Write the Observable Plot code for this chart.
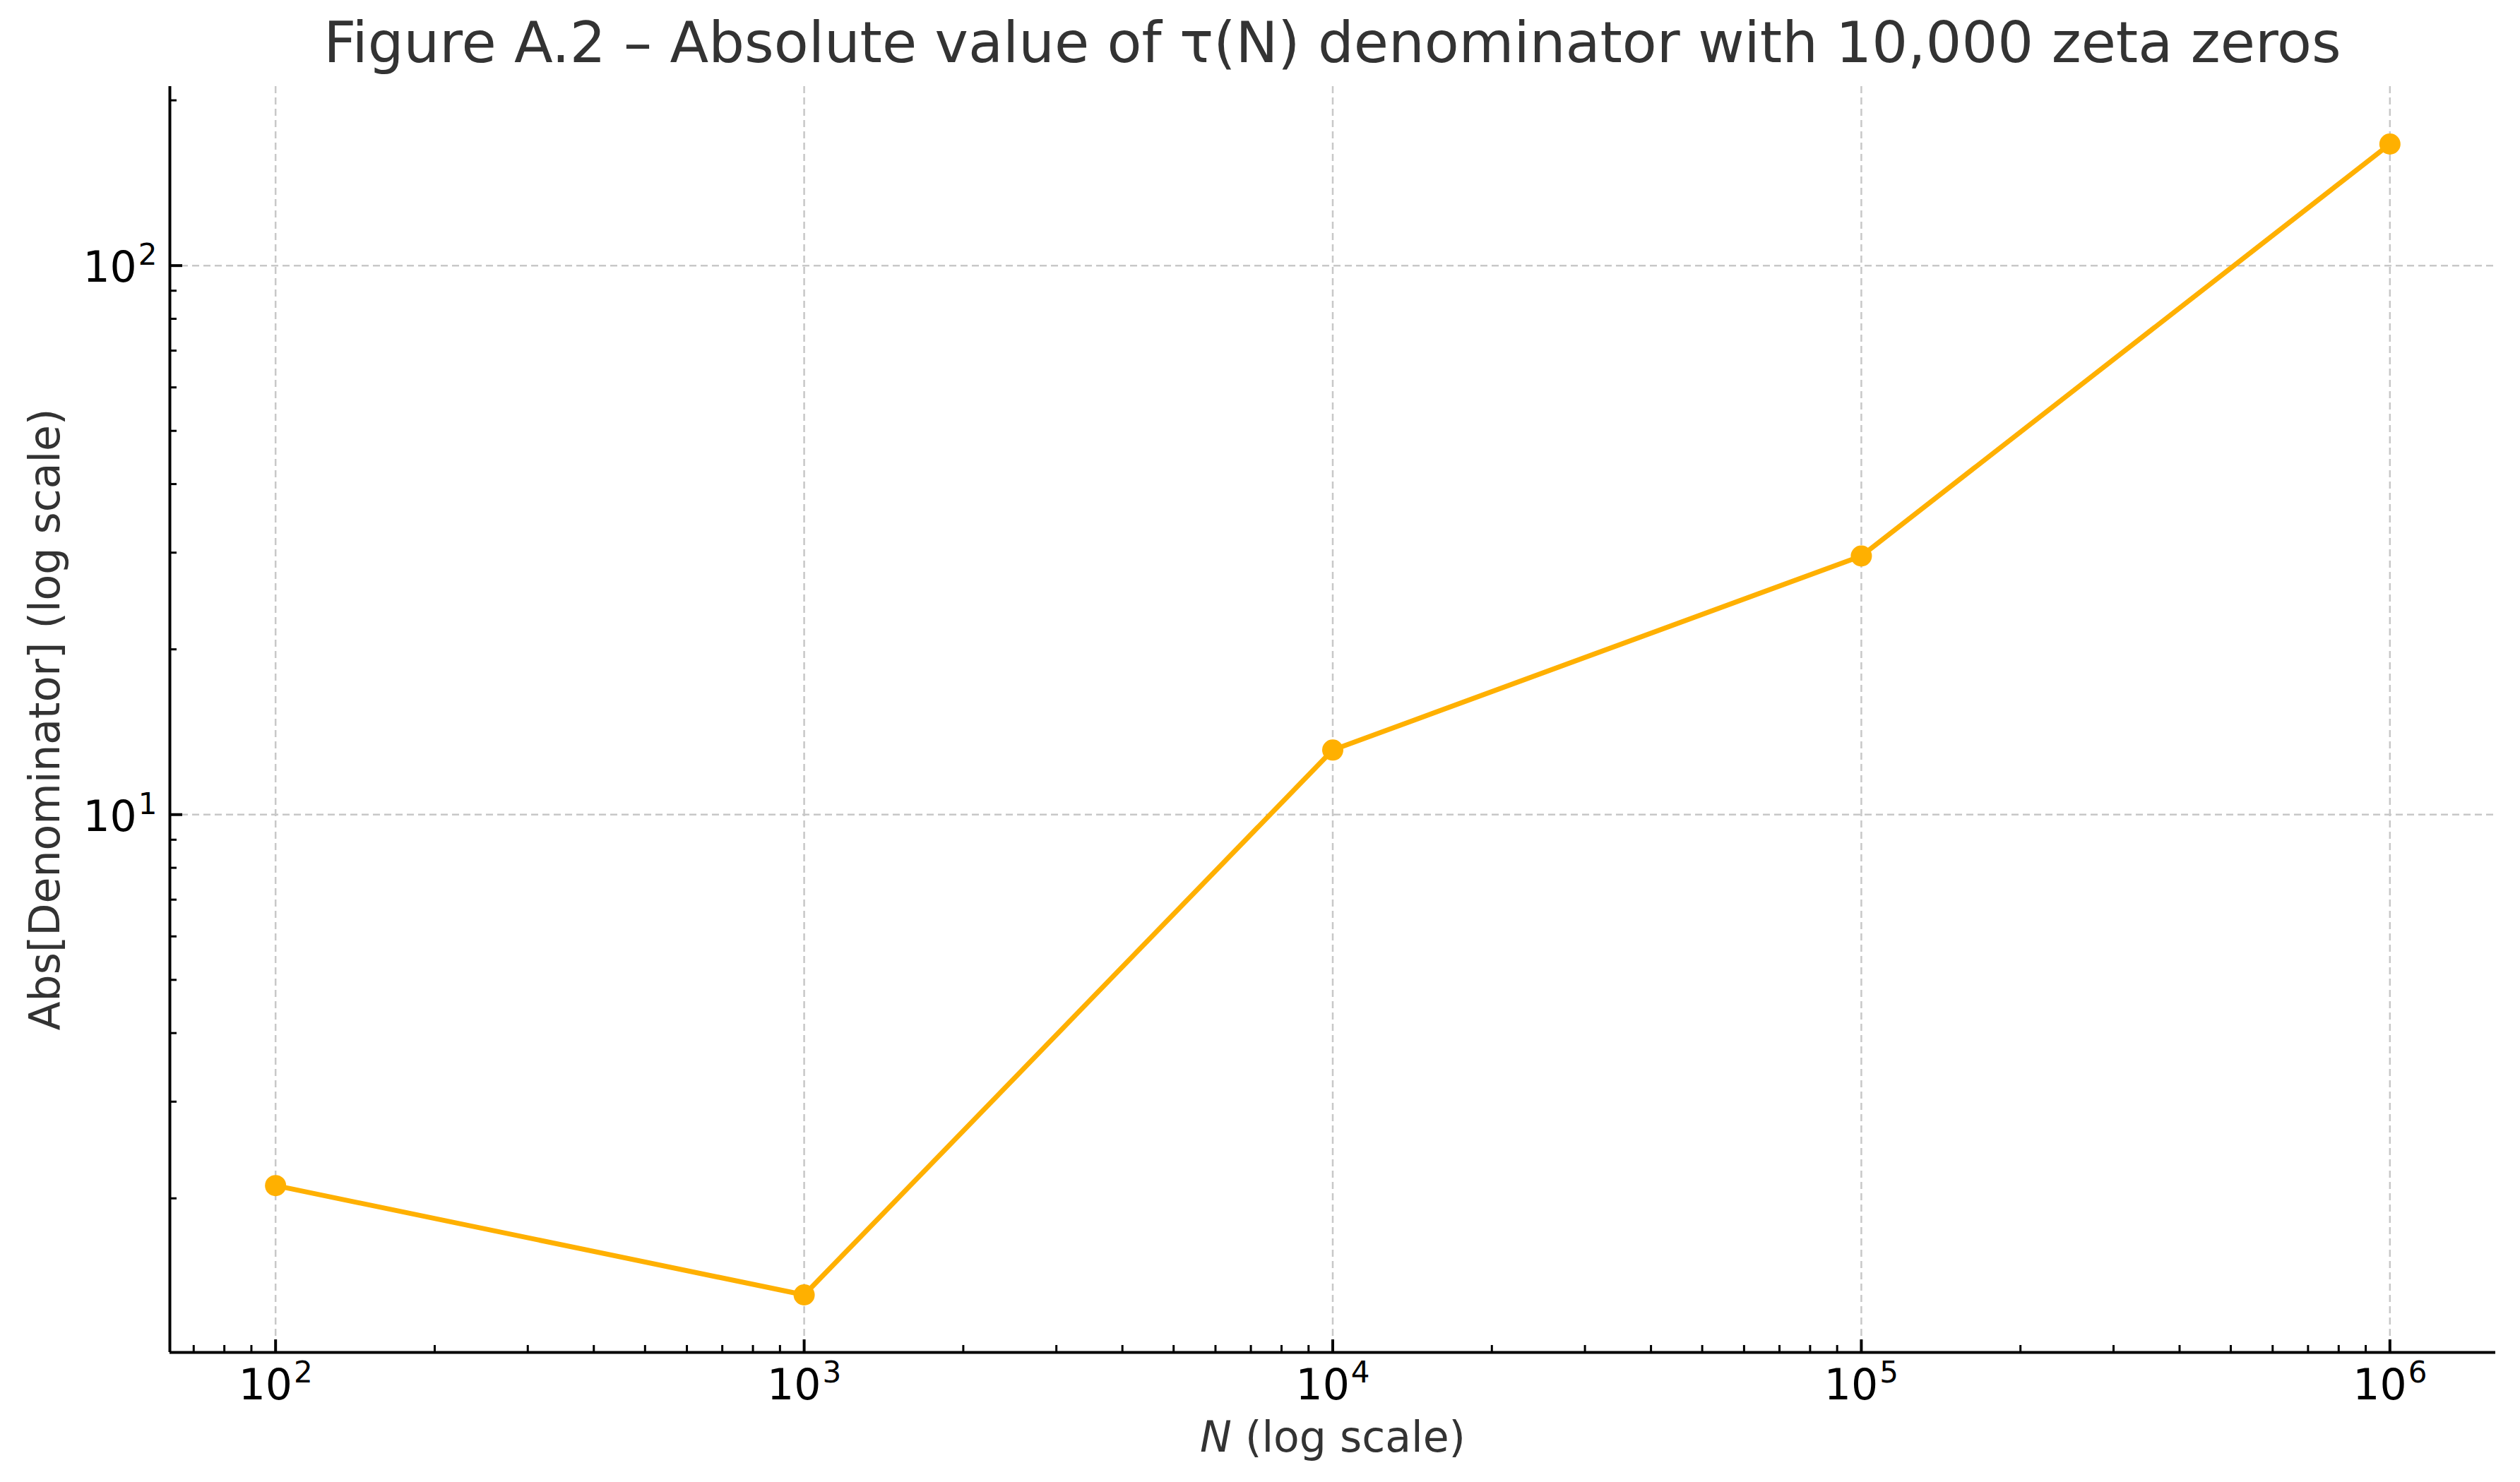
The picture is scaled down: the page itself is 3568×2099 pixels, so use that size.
<!DOCTYPE html>
<html>
<head>
<meta charset="utf-8">
<script src="https://cdn.jsdelivr.net/npm/d3@7"></script>
<script src="https://cdn.jsdelivr.net/npm/@observablehq/plot@0.6"></script>
<style>
  html, body { margin: 0; padding: 0; background: #fff; }
  #title {
    height: 122px;
    font: 80px/122px "DejaVu Sans", sans-serif;
    color: #333;
    text-align: center;
    padding-left: 240px;
    padding-right: 35px;
    white-space: nowrap;
  }
</style>
</head>
<body>
<div id="title"></div>
<div id="chart"></div>
<script>
// ---- data ----
const titleText = "Figure A.2 – Absolute value of τ(N) denominator with 10,000 zeta zeros";
const xLabel = "N (log scale)";
const yLabel = "Abs[Denominator] (log scale)";
const N = [1e2, 1e3, 1e4, 1e5, 1e6];
const absDenominator = [2.11, 1.334, 13.11, 29.58, 166.5];
const xTickValues = [1e2, 1e3, 1e4, 1e5, 1e6];
const yTickValues = [1e1, 1e2];

document.getElementById("title").textContent = titleText;

const data = N.map((n, i) => ({n, v: absDenominator[i]}));

// matplotlib-like 5% margins in log space
function logExtent(arr) {
  const l = arr.map(Math.log10);
  const lo = d3.min(l), hi = d3.max(l), m = 0.05 * (hi - lo);
  return [10 ** (lo - m), 10 ** (hi + m)];
}
const xDomain = logExtent(N);
const yDomain = logExtent(absDenominator);
const isPow10 = t => Math.abs(Math.log10(t) - Math.round(Math.log10(t))) < 1e-9;
const minorX = d3.scaleLog().domain(xDomain).ticks().filter(t => !isPow10(t) && t >= xDomain[0] && t <= xDomain[1]);
const minorY = d3.scaleLog().domain(yDomain).ticks().filter(t => !isPow10(t) && t >= yDomain[0] && t <= yDomain[1]);

const W = 3568, H = 1977;
const mL = 240, mR = 35, mT = 0, mB = 184;
const plotW = W - mL - mR, plotH = H - mT - mB;
const fmt = d => `10^${Math.round(Math.log10(d))}`;
const gridStyle = {stroke: "#c8c8c8", strokeOpacity: 1, strokeWidth: 2.5, strokeDasharray: "10,6"};

const chart = Plot.plot({
  width: W,
  height: H,
  marginLeft: mL,
  marginRight: mR,
  marginTop: mT,
  marginBottom: mB,
  style: {fontFamily: "DejaVu Sans", fontSize: "60px", background: "white", color: "black"},
  x: {type: "log", domain: xDomain},
  y: {type: "log", domain: yDomain},
  marks: [
    Plot.gridX({ticks: xTickValues, ...gridStyle}),
    Plot.gridY({ticks: yTickValues, ...gridStyle}),
    // inward ticks
    Plot.ruleX(xTickValues, {x: d => d, stroke: "black", strokeWidth: 4, insetTop: plotH - 18}),
    Plot.ruleX(minorX, {x: d => d, stroke: "black", strokeWidth: 3, insetTop: plotH - 10}),
    Plot.ruleY(yTickValues, {y: d => d, stroke: "black", strokeWidth: 4, insetRight: plotW - 18}),
    Plot.ruleY(minorY, {y: d => d, stroke: "black", strokeWidth: 3, insetRight: plotW - 10}),
    // spines
    Plot.ruleX([xDomain[0]], {x: d => d, stroke: "black", strokeWidth: 4}),
    Plot.ruleY([yDomain[0]], {y: d => d, stroke: "black", strokeWidth: 4}),
    // tick labels
    Plot.axisX({ticks: xTickValues, tickSize: 0, tickPadding: 24, tickFormat: fmt, fontSize: 60, fill: "black", label: null}),
    Plot.axisY({ticks: yTickValues, tickSize: 0, tickPadding: 18, tickFormat: fmt, fontSize: 60, fill: "black", dy: 4, label: null}),
    // data
    Plot.line(data, {x: "n", y: "v", stroke: "#FFB000", strokeWidth: 7}),
    Plot.dot(data, {x: "n", y: "v", r: 15, fill: "#FFB000", stroke: "none"}),
    // axis labels
    Plot.text([xLabel], {text: d => d, frameAnchor: "bottom", textAnchor: "middle", dy: 140, fontSize: 60, fill: "#333"}),
    Plot.text([yLabel], {text: d => d, frameAnchor: "left", textAnchor: "middle", rotate: -90, dx: -176, fontSize: 60, fill: "#333"})
  ]
});

// superscript exponents and italic N
d3.select(chart).selectAll("text").each(function () {
  const t = this.textContent;
  const m = /^10\^(\d+)$/.exec(t);
  if (m) {
    const sel = d3.select(this);
    sel.text("10");
    sel.append("tspan").attr("font-size", 42).attr("dy", -24).attr("dx", 2).text(m[1]);
  } else if (t === xLabel) {
    const sel = d3.select(this);
    sel.text("");
    sel.append("tspan").attr("font-style", "italic").text("N");
    sel.append("tspan").text(xLabel.slice(1));
  }
});

document.getElementById("chart").appendChild(chart);
</script>
</body>
</html>
